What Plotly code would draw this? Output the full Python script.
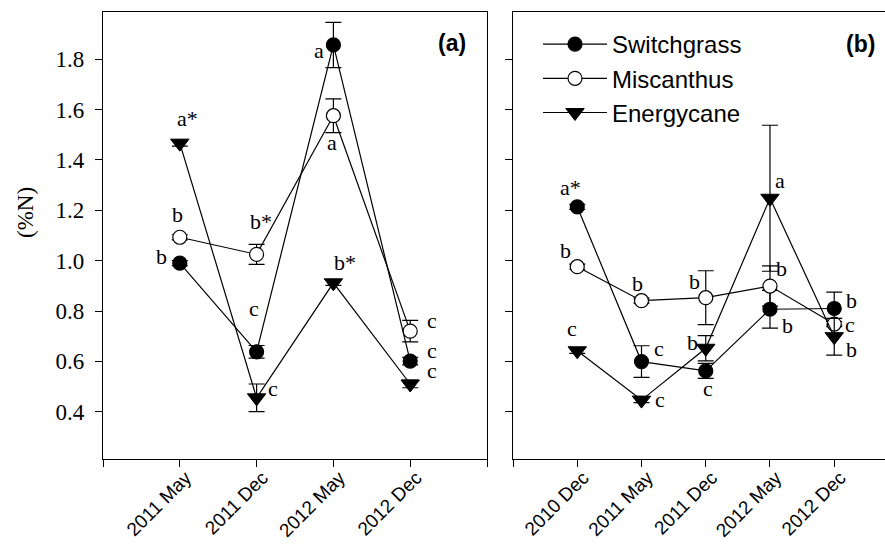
import plotly.graph_objects as go

# ---------------- data ----------------
cats_a = ["2011 May", "2011 Dec", "2012 May", "2012 Dec"]
sg_a = [0.99, 0.638, 1.857, 0.601]
sg_a_err = [0.01, 0.025, 0.09, 0.015]
mi_a = [1.093, 1.025, 1.576, 0.72]
mi_a_err = [0.01, 0.04, 0.067, 0.043]
ec_a = [1.467, 0.455, 0.912, 0.51]
ec_a_err = [0.012, 0.055, 0.01, 0.015]

cats_b = ["2010 Dec", "2011 May", "2011 Dec", "2012 May", "2012 Dec"]
sg_b = [1.214, 0.599, 0.562, 0.807, 0.81]
sg_b_err = [0.01, 0.063, 0.03, 0.075, 0.065]
mi_b = [0.976, 0.841, 0.853, 0.899, 0.748]
mi_b_err = [0.01, 0.01, 0.107, 0.08, 0.01]
ec_b = [0.642, 0.446, 0.652, 1.248, 0.698]
ec_b_err = [0.01, 0.01, 0.05, 0.29, 0.073]

letters_sg_a = ["b", "c", "a", "c"]
letters_mi_a = ["b", "b*", "a", "c"]
letters_ec_a = ["a*", "c", "b*", "c"]
letters_sg_b = ["a*", "c", "c", "b", "b"]
letters_mi_b = ["b", "b", "b", "b", "c"]
letters_ec_b = ["c", "c", "b", "a", "b"]

y_ticks = [0.4, 0.6, 0.8, 1.0, 1.2, 1.4, 1.6, 1.8]
series_names = ["Switchgrass", "Miscanthus", "Energycane"]

SERIF = "Times New Roman, Liberation Serif, DejaVu Serif, serif"
SANS = "Arial, Liberation Sans, sans-serif"

# ---------------- label offsets (px: dx right, dy down) ----------------
off_sg_a = [(-18, -7), (-3, -43), (-14, 6), (22, -11)]
off_mi_a = [(-2, -23), (4, -33), (-1, 27), (22, -11)]
off_ec_a = [(8, -25), (16, -9), (12, -20), (22, -14)]
off_sg_b = [(-7, -19), (17, -13), (2, 18), (18, 16), (17, -8)]
off_mi_b = [(-12, -16), (-4, -17), (-11, -16), (12, -18), (16, 0)]
off_ec_b = [(-5, -22), (18, -1), (-13, -6), (10, -18), (17, 13)]

W, H = 885, 545
L_A, R_A, L_B = 103, 487, 513
TOP, BOT = 12, 459

styles = [
    dict(symbol="circle", size=14, color="black", line=dict(color="black", width=1.2)),
    dict(symbol="circle", size=14, color="white", line=dict(color="black", width=1.2)),
    dict(symbol="triangle-down", size=16, color="black", line=dict(color="black", width=1)),
]

fig = go.Figure()

def add_panel(xref, yref, cats, vals, errs, show):
    xs = list(range(1, len(cats) + 1))
    for name, v, e, st in zip(series_names, vals, errs, styles):
        fig.add_trace(go.Scatter(
            x=xs, y=v, name=name, mode="lines+markers",
            xaxis=xref, yaxis=yref, legendgroup=name, showlegend=show,
            line=dict(color="black", width=1.2),
            marker=st,
            error_y=dict(type="data", array=e, color="black", thickness=1.2, width=8),
        ))

add_panel("x", "y", cats_a, [sg_a, mi_a, ec_a], [sg_a_err, mi_a_err, ec_a_err], True)
add_panel("x2", "y2", cats_b, [sg_b, mi_b, ec_b], [sg_b_err, mi_b_err, ec_b_err], False)

ann = []
def add_letters(xref, yref, vals, letters, offs):
    for i, (v, t, (dx, dy)) in enumerate(zip(vals, letters, offs)):
        ann.append(dict(x=i + 1, y=v, xref=xref, yref=yref, text=t, showarrow=False,
                        xanchor="center", yanchor="middle",
                        xshift=dx, yshift=-dy,
                        font=dict(family=SERIF, size=22, color="black")))

add_letters("x", "y", sg_a, letters_sg_a, off_sg_a)
add_letters("x", "y", mi_a, letters_mi_a, off_mi_a)
add_letters("x", "y", ec_a, letters_ec_a, off_ec_a)
add_letters("x2", "y2", sg_b, letters_sg_b, off_sg_b)
add_letters("x2", "y2", mi_b, letters_mi_b, off_mi_b)
add_letters("x2", "y2", ec_b, letters_ec_b, off_ec_b)

def px_x(p):
    return p / W

def px_y(p):
    return (BOT - p) / (BOT - TOP)

common_ann = dict(xref="paper", yref="paper", showarrow=False, xanchor="center", yanchor="middle")
ann.append(dict(x=px_x(452), y=px_y(43), text="<b>(a)</b>",
                font=dict(family=SANS, size=23, color="black"), **common_ann))
ann.append(dict(x=px_x(860), y=px_y(44), text="<b>(b)</b>",
                font=dict(family=SANS, size=23, color="black"), **common_ann))
ann.append(dict(x=px_x(25), y=px_y(213), text="(%N)", textangle=-90,
                font=dict(family=SERIF, size=23, color="black"), **common_ann))

yr = [0.212, 1.988]
xcommon = dict(showgrid=False, zeroline=False, showline=True, linecolor="black", linewidth=1.3,
               mirror=True, ticks="outside", ticklen=7, tickwidth=1.3, tickcolor="black",
               tickangle=-45, automargin=False, ticklabelstandoff=-8, ticklabelshift=6,
               tickfont=dict(family=SANS, size=19, color="black"))
ycommon = dict(showgrid=False, zeroline=False, showline=True, linecolor="black", linewidth=1.3,
               ticks="outside", ticklen=7, tickwidth=1.3, tickcolor="black", range=yr,
               automargin=False,
               tickvals=y_ticks, ticktext=["%.1f" % t for t in y_ticks],
               tickfont=dict(family=SERIF, size=23, color="black"))

fig.update_layout(
    width=W, height=H,
    margin=dict(l=0, r=0, t=TOP, b=H - BOT),
    paper_bgcolor="white", plot_bgcolor="white",
    xaxis=dict(domain=[px_x(L_A), px_x(R_A)], range=[0, len(cats_a) + 1], anchor="y",
               tickvals=list(range(0, len(cats_a) + 2)), ticktext=[""] + cats_a + [""], **xcommon),
    yaxis=dict(domain=[0, 1], anchor="x", mirror=True, ticklabelstandoff=6, **ycommon),
    xaxis2=dict(domain=[px_x(L_B), 1.0], range=[0, 5.79], anchor="y2",
                tickvals=list(range(0, len(cats_b) + 1)), ticktext=[""] + cats_b, **xcommon),
    yaxis2=dict(domain=[0, 1], anchor="x2", mirror=False, showticklabels=False, **ycommon),
    annotations=ann,
    showlegend=True,
    legend=dict(x=px_x(538), y=px_y(22), xanchor="left", yanchor="top",
                bgcolor="rgba(0,0,0,0)", itemwidth=64, tracegroupgap=0,
                font=dict(family=SANS, size=24, color="black")),
)

fig.write_html("out.html", config={"displayModeBar": False},
               post_script="document.body.style.margin='0px';")
